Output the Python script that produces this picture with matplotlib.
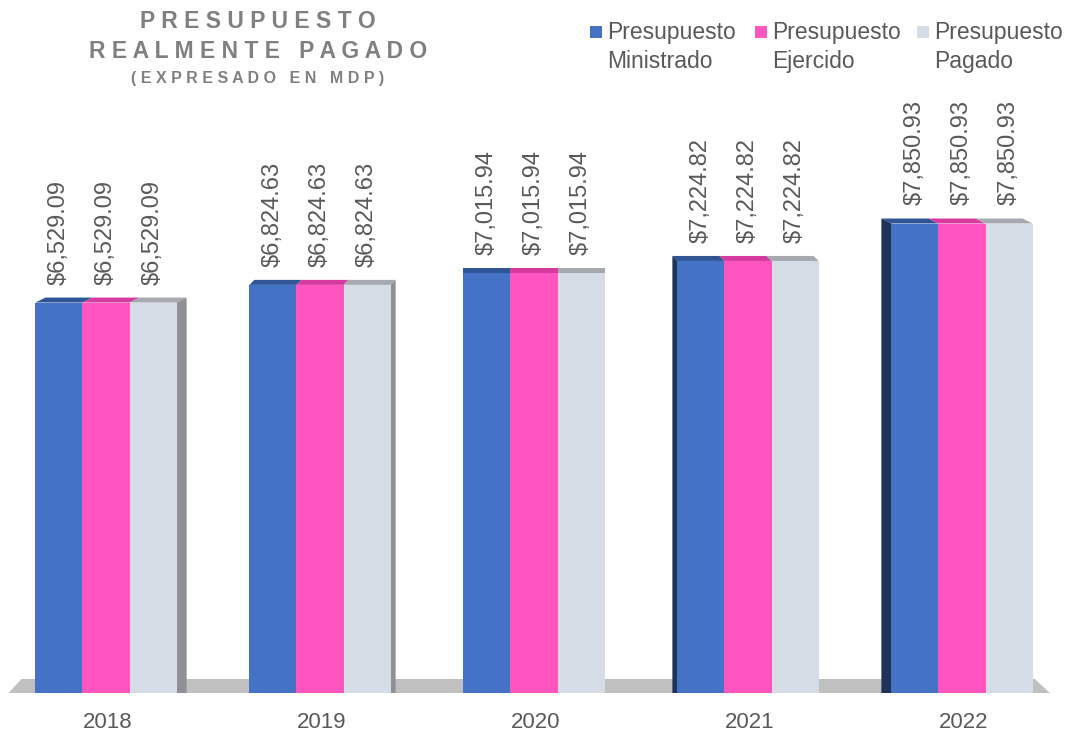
import numpy as np
import matplotlib.pyplot as plt
from matplotlib.patches import Polygon, Rectangle

years = ["2018", "2019", "2020", "2021", "2022"]
series = ["Presupuesto\nMinistrado", "Presupuesto\nEjercido", "Presupuesto\nPagado"]
ministrado = [6529.09, 6824.63, 7015.94, 7224.82, 7850.93]
ejercido = [6529.09, 6824.63, 7015.94, 7224.82, 7850.93]
pagado = [6529.09, 6824.63, 7015.94, 7224.82, 7850.93]

colors = ["#4472C4", "#FF55C0", "#D6DCE5"]
top_colors = ["#2F5597", "#D63A9E", "#A6AAB0"]
side_colors = ["#1F3357", "#B0307E", "#8E9093"]
text_col = "#595959"

plt.rcParams['font.family'] = ['Liberation Sans', 'DejaVu Sans']

fig = plt.figure(figsize=(10.67, 7.34), dpi=100)
ax = fig.add_axes([0, (734 - 693) / 734, 1, 0.9])
ymax = 0.9 * 734 / 0.0598
ax.set_ylim(0, ymax)
ax.set_xlim(-106 / 214, (1067 - 106) / 214)
ax.axis('off')

x = np.arange(len(years))
w = 0.22
offs = [-w, 0, w]
data = [ministrado, ejercido, pagado]

# floor band behind the bars
x0, x1 = ax.get_xlim()
fh = 14 / 0.0598
floor = Polygon([(x0 + 0.04, 0), (x1 - 0.08, 0), (x1 - 0.15, fh), (x0 + 0.10, fh)],
                closed=True, facecolor="#C0C0C0", edgecolor="none", zorder=1)
ax.add_patch(floor)

depth_y = 5 / 0.0598
for i in range(len(years)):
    d = (2 - i) * 5 / 214
    for j in range(3):
        v = data[j][i]
        xl = x[i] + offs[j] - w / 2
        xr = x[i] + offs[j] + w / 2
        ax.bar(x[i] + offs[j], v, width=w, color=colors[j], zorder=3)
        # top face
        ax.add_patch(Polygon([(xl, v), (xr, v), (xr + d, v + depth_y), (xl + d, v + depth_y)],
                             closed=True, facecolor=top_colors[j], edgecolor="none", zorder=2))
        ax.annotate(f"${v:,.2f}", (x[i] + offs[j], v), xytext=(0, 13), textcoords="offset points",
                    rotation=90, ha="center", va="bottom", fontsize=17, color=text_col)
    # side face
    if d > 0:
        v = data[2][i]
        xr = x[i] + offs[2] + w / 2
        ax.add_patch(Polygon([(xr, 0), (xr + d, 0), (xr + d, v + depth_y), (xr, v)],
                             closed=True, facecolor=side_colors[2], edgecolor="none", zorder=2))
    elif d < 0:
        v = data[0][i]
        xl = x[i] + offs[0] - w / 2
        ax.add_patch(Polygon([(xl, 0), (xl + d, 0), (xl + d, v + depth_y), (xl, v)],
                             closed=True, facecolor=side_colors[0], edgecolor="none", zorder=2))
    ax.annotate(years[i], (x[i], 0), xytext=(1, -21), textcoords="offset points",
                ha="center", va="center", fontsize=16, color=text_col, annotation_clip=False)

# title
fig.text(258 / 1067, 1 - 22 / 734, " ".join("PRESUPUESTO"), ha="center", va="center",
         fontsize=16.5, fontweight="bold", color="#808080")
fig.text(258 / 1067, 1 - 52 / 734, " ".join("REALMENTE") + "   " + " ".join("PAGADO"),
         ha="center", va="center", fontsize=16.5, fontweight="bold", color="#808080")
fig.text(258 / 1067, 1 - 78 / 734, " ".join("(EXPRESADO") + "   " + " ".join("EN") + "   " + " ".join("MDP)"),
         ha="center", va="center", fontsize=11.5, fontweight="bold", color="#808080")

# legend
lx = [590, 755, 917]
for k in range(3):
    fig.patches.append(Rectangle((lx[k] / 1067, 1 - 38 / 734), 12 / 1067, 12 / 734,
                                 transform=fig.transFigure, facecolor=colors[k], edgecolor="none"))
    fig.text((lx[k] + 17) / 1067, 1 - 21 / 734, series[k], ha="left", va="top",
             fontsize=16.5, color=text_col, linespacing=1.35)

fig.savefig("out.png", dpi=100)
